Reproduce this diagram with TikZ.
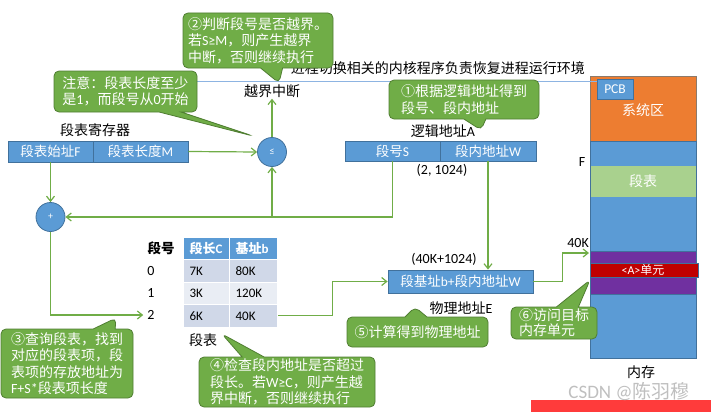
\documentclass[tikz,border=0pt]{standalone}
\usepackage{fontspec}
\setmainfont{Noto Sans CJK SC}
\newfontfamily\en{Carlito}
\usetikzlibrary{shapes.callouts,arrows.meta}

\definecolor{boxblue}{HTML}{5B9BD5}
\definecolor{boxedge}{HTML}{41719C}
\definecolor{notegreen}{HTML}{70AD47}
\definecolor{noteedge}{HTML}{507E32}
\definecolor{sysorange}{HTML}{ED7D31}
\definecolor{sysedge}{HTML}{8C7A6B}
\definecolor{tablegreen}{HTML}{A9D18E}
\definecolor{unitpurple}{HTML}{7030A0}
\definecolor{unitred}{HTML}{C00000}
\definecolor{rowdark}{HTML}{D0D8E8}
\definecolor{rowlight}{HTML}{E9EDF4}
\definecolor{linkblue}{HTML}{8DB4E2}
\definecolor{barred}{HTML}{FF3B3B}

\tikzset{
  note/.style={rectangle callout, rounded corners=5pt, fill=notegreen, draw=noteedge,
    line width=0.8pt, text=white, align=left, inner sep=0pt,
    callout pointer width=22pt, font=\fontsize{14}{16.5}\selectfont},
  blk/.style={draw=boxedge, fill=boxblue, line width=0.8pt, text=white,
    minimum height=21pt, inner sep=0pt, font=\fontsize{13.5}{16}\selectfont},
  op/.style={circle, draw=boxedge, fill=boxblue, line width=0.8pt, text=white,
    minimum size=29pt, inner sep=0pt, font=\fontsize{10}{12}\selectfont},
  lbl/.style={inner sep=1pt, font=\fontsize{14}{16}\selectfont},
  cell/.style={draw=white, line width=1.2pt, anchor=north west, minimum height=22.5pt,
    inner xsep=6pt, inner ysep=0pt, align=left, font=\fontsize{13}{15}\selectfont},
  head/.style={cell, fill=boxblue, text=white, font=\fontsize{13}{15}\selectfont\bfseries},
  flow/.style={draw=notegreen, line width=1.2pt, -{Straight Barb[length=5pt,width=8pt]}},
}

\begin{document}
\begin{tikzpicture}[x=1pt,y=-1pt]
\useasboundingbox (0,0) rectangle (711,412);

% memory
\draw[sysedge, fill=sysorange, line width=0.8pt] (590,76) rectangle (696,141);
\draw[boxedge, fill=boxblue, line width=0.8pt] (590,141) rectangle (696,358);
\fill[tablegreen] (591,166) rectangle (696,197);
\draw[boxedge, fill=unitpurple, line width=0.8pt] (590,251) rectangle (696,294);
\draw[boxedge, fill=unitred, line width=0.8pt] (590,263) rectangle (698,277);
\node[blk, minimum width=36pt, minimum height=20pt] (pcb) at (615,89) {\en PCB};
\node[lbl, text=white] (sys) at (643,110) {系统区};
\node[lbl, text=white] (tmem) at (643,181) {段表};
\node[lbl, text=white, font=\fontsize{12}{14}\selectfont] (unit) at (643,270) {{\en <A>}单元};
\node[lbl] (mF) at (582,162) {\en F};
\node[lbl, anchor=east] (m40) at (590,243) {\en 40K};
\node[lbl] (mem) at (641,372) {内存};
\coordinate (k40) at (589,253);

% kernel line
\coordinate (lnk) at (160,81);
\draw[linkblue, line width=0.8pt] (lnk) -- (pcb.west |- lnk);
\node[lbl, anchor=east] (ctxt) at (586,68) {进程切换相关的内核程序负责恢复进程运行环境};
\node[lbl] (intr) at (272,91) {越界中断};

% segment register
\node[lbl] (sreg) at (95,130) {段表寄存器};
\node[blk, minimum width=85pt] (sbase) at (50.5,151.5) {段表始址{\en F}};
\node[blk, minimum width=95pt] (slen) at (140.5,151.5) {段表长度{\en M}};
\node[op] (cmp) at (272,152) {\en ≤};
\node[op] (add) at (50.5,217) {\en +};

% logical address
\node[lbl] (laddr) at (443,131) {逻辑地址{\en A}};
\node[blk, minimum width=95pt, minimum height=20pt] (segS) at (392.5,151) {段号{\en S}};
\node[blk, minimum width=96pt, minimum height=20pt] (segW) at (488,151) {段内地址{\en W}};
\node[lbl] (lval) at (442,170) {\en (2, 1024)};

% physical address
\node[lbl] (pval) at (444,259) {\en (40K+1024)};
\node[blk, minimum width=145pt, minimum height=23pt] (phys) at (460.5,281.5) {段基址{\en b+}段内地址{\en W}};
\node[lbl] (paddr) at (461,308) {物理地址{\en E}};

% segment table
\node[lbl, font=\fontsize{13.5}{15}\selectfont\bfseries] (hno) at (161,248) {段号};
\node[head, text width=34pt] (hc) at (183,237) {段长{\en C}};
\node[head, text width=36pt] (hb) at (229,237) {基址{\en b}};
\node[cell, fill=rowdark, text width=34pt] (c0) at (183,259) {\en 7K};
\node[cell, fill=rowdark, text width=36pt] (b0) at (229,259) {\en 80K};
\node[cell, fill=rowlight, text width=34pt] (c1) at (183,281.5) {\en 3K};
\node[cell, fill=rowlight, text width=36pt] (b1) at (229,281.5) {\en 120K};
\node[cell, fill=rowdark, text width=34pt] (c2) at (183,304) {\en 6K};
\node[cell, fill=rowdark, text width=36pt] (b2) at (229,304) {\en 40K};
\node[lbl] (r0) at (151,271) {\en 0};
\node[lbl] (r1) at (151,293) {\en 1};
\node[lbl, inner sep=4pt] (r2) at (151,315) {\en 2};
\node[lbl] (tname) at (203,340) {段表};

% connectors
\draw[flow] (slen.east) -- (cmp.west);
\draw[flow] (sbase.south) -- (add.north);
\draw[flow] (segS.south) |- (add.east);
\coordinate (jn) at (cmp.south |- add.east);
\draw[flow] (jn) -- (cmp.south);
\draw[flow] (cmp.north) -- (intr.south);
\draw[flow] (add.south) |- (r2.west);
\draw[flow] (segW.south) -- (segW.south |- phys.north);
\draw[flow] (b2.east) -- ++(54,0) |- (phys.west);
\draw[flow] (phys.east) -- ++(29,0) |- (k40);

% notes
\node[note, minimum width=150pt, minimum height=55pt, callout absolute pointer={(279,83)}] (n2) at (258,40.5)
  {②判断段号是否越界。\\若{\en S≥M}，则产生越界\\中断，否则继续执行};
\node[note, minimum width=143pt, minimum height=41pt, callout absolute pointer={(253,136)}] (n0) at (125.5,91.5)
  {注意：段表长度至少\\是{\en 1}，而段号从{\en 0}开始};
\node[note, minimum width=150pt, minimum height=39pt, callout absolute pointer={(481,130)}] (n1) at (464,99.5)
  {①根据逻辑地址得到\\段号、段内地址};
\node[note, minimum width=132pt, minimum height=69pt, callout absolute pointer={(116,318)}] (n3) at (67,363.5)
  {③查询段表，找到\\对应的段表项，段\\表项的存放地址为\\{\en F+S*}段表项长度};
\node[note, minimum width=176pt, minimum height=50pt, callout absolute pointer={(222,334)}] (n4) at (287,382)
  {④检查段内地址是否超过\\段长。若{\en W≥C}，则产生越\\界中断，否则继续执行};
\node[note, minimum width=141pt, minimum height=30pt, callout absolute pointer={(415,307)}] (n5) at (417.5,332)
  {⑤计算得到物理地址};
\node[note, minimum width=86pt, minimum height=32pt, font=\fontsize{14}{15}\selectfont,
  callout absolute pointer={(590,280)}] (n6) at (554,323)
  {⑥访问目标\\内存单元};

% mark
\fill[barred] (531,400) rectangle (711,412);
\node[text=gray!50, font=\fontsize{19}{20}\selectfont] (wm) at (629,392) {{\en CSDN @}陈羽穆};
\end{tikzpicture}
\end{document}
